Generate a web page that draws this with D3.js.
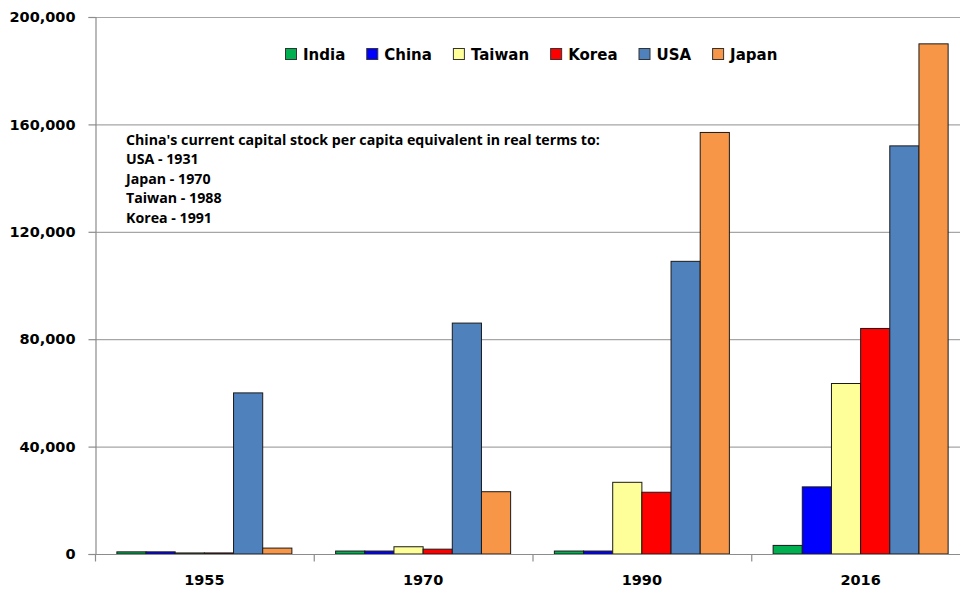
<!DOCTYPE html>
<html>
<head>
<meta charset="utf-8">
<script src="https://cdn.jsdelivr.net/npm/d3@7.9.0/dist/d3.min.js"></script>
<style>
  body { margin: 0; background: #fff; }
  svg { display: block; font-family: "DejaVu Sans", Verdana, sans-serif; }
</style>
</head>
<body>
<svg id="chart" width="960" height="590"></svg>
<script>
// data
const years = ['1955', '1970', '1990', '2016'];
const countries = ['India', 'China', 'Taiwan', 'Korea', 'USA', 'Japan'];
const india  = [800, 1100, 1100, 3200];
const china  = [800, 1100, 1100, 25000];
const taiwan = [400, 2700, 26700, 63500];
const korea  = [400, 1800, 23000, 84000];
const usa    = [60000, 86000, 109000, 152000];
const japan  = [2200, 23200, 157000, 190000];
const yTicks = [0, 40000, 80000, 120000, 160000, 200000];
const colorList = ['#00b050', '#0000ff', '#ffff99', '#ff0000', '#4f81bd', '#f79646'];
const noteLines = [
  "China's current capital stock per capita equivalent in real terms to:",
  'USA - 1931',
  'Japan - 1970',
  'Taiwan - 1988',
  'Korea - 1991'
];

const series = [india, china, taiwan, korea, usa, japan];
const rows = years.map((yr, i) => ({
  year: yr,
  values: countries.map((c, j) => ({ key: c, value: series[j][i] }))
}));

const svg = d3.select('#chart');
const plotL = 95, plotR = 970, plotT = 17, plotB = 554;

const y = d3.scaleLinear().domain([0, 200000]).range([plotB, plotT]);
const x0 = d3.scaleBand().domain(years).range([plotL, plotR])
  .paddingInner(0.2).paddingOuter(0.1);
const xCat = d3.scaleBand().domain(years).range([plotL, plotR]).padding(0);
const x1 = d3.scaleBand().domain(countries).range([0, x0.bandwidth()]);
const color = d3.scaleOrdinal().domain(countries).range(colorList);

// gridlines
svg.append('g')
  .selectAll('line')
  .data(yTicks.filter(d => d > 0))
  .join('line')
  .attr('x1', plotL).attr('x2', plotR)
  .attr('y1', d => y(d) + 0.5).attr('y2', d => y(d) + 0.5)
  .attr('stroke', '#a6a6a6')
  .attr('stroke-width', 1.2);

// y axis
const yAxis = svg.append('g')
  .attr('transform', `translate(${plotL + 0.5},0)`)
  .call(d3.axisLeft(y).tickValues(yTicks).tickFormat(d3.format(',')).tickSize(7).tickPadding(13));
yAxis.select('.domain').attr('stroke', '#8c8c8c').attr('stroke-width', 1.2);
yAxis.selectAll('.tick line').attr('stroke', '#8c8c8c').attr('stroke-width', 1.2);
yAxis.selectAll('.tick text')
  .attr('font-size', 14.5).attr('font-weight', 'bold').attr('fill', '#000')
  .attr('font-family', '"DejaVu Sans", Verdana, sans-serif');

// bars
svg.append('g')
  .selectAll('g')
  .data(rows)
  .join('g')
  .attr('transform', d => `translate(${x0(d.year)},0)`)
  .selectAll('rect')
  .data(d => d.values)
  .join('rect')
  .attr('x', d => x1(d.key))
  .attr('y', d => y(d.value))
  .attr('width', x1.bandwidth())
  .attr('height', d => plotB - y(d.value))
  .attr('fill', d => color(d.key))
  .attr('stroke', '#1a1a1a')
  .attr('stroke-width', 1);

// x axis
const xAxis = svg.append('g')
  .attr('transform', `translate(0,${plotB + 0.5})`);
xAxis.append('line')
  .attr('x1', plotL).attr('x2', plotR)
  .attr('stroke', '#8c8c8c').attr('stroke-width', 1.2);
xAxis.selectAll('line.tk')
  .data(years)
  .join('line')
  .attr('class', 'tk')
  .attr('x1', d => xCat(d) + 0.5).attr('x2', d => xCat(d) + 0.5)
  .attr('y1', 0).attr('y2', 7)
  .attr('stroke', '#8c8c8c').attr('stroke-width', 1.2);
xAxis.selectAll('text')
  .data(years)
  .join('text')
  .attr('x', d => x0(d) + x0.bandwidth() / 2)
  .attr('y', 30)
  .attr('text-anchor', 'middle')
  .attr('font-size', 14.5)
  .attr('font-weight', 'bold')
  .text(d => d);

// legend
const legend = svg.append('g').attr('transform', 'translate(285,54)');
let lx = 0;
countries.forEach((c) => {
  const item = legend.append('g').attr('transform', `translate(${lx},0)`);
  item.append('rect')
    .attr('x', 0.5).attr('y', -5.5)
    .attr('width', 11).attr('height', 11)
    .attr('fill', color(c))
    .attr('stroke', '#333').attr('stroke-width', 1);
  const t = item.append('text')
    .attr('x', 18).attr('y', 5.5)
    .attr('font-size', 15)
    .attr('font-weight', 'bold')
    .text(c);
  lx += 18 + t.node().getComputedTextLength() + 21;
});

// note
svg.append('g')
  .selectAll('text')
  .data(noteLines)
  .join('text')
  .attr('x', 126)
  .attr('y', (d, i) => 145 + i * 19.4)
  .attr('font-family', '"Open Sans", "Noto Sans", sans-serif')
  .attr('font-size', 14.2)
  .attr('font-weight', 'bold')
  .text(d => d);
</script>
</body>
</html>
